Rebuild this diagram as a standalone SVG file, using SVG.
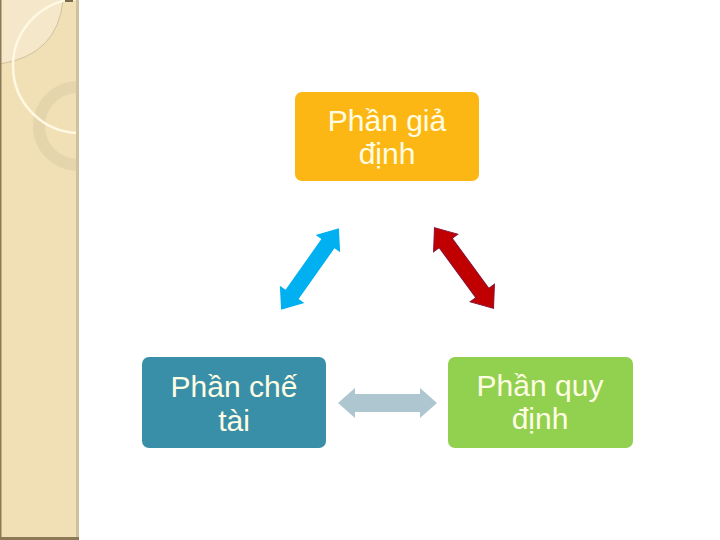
<svg xmlns="http://www.w3.org/2000/svg" width="720" height="540" viewBox="0 0 720 540">
<style>
.lbl{font-family:"Liberation Sans",Arial,sans-serif;font-size:30px;fill:#FFFDE4;text-anchor:middle}
</style>
<defs>
<path id="dbl" d="M -50 0 L -31 -15 L -31 -8 L 31 -8 L 31 -15 L 50 0 L 31 15 L 31 8 L -31 8 L -31 15 Z"/>
<clipPath id="strip"><rect x="0" y="0" width="77" height="540"/></clipPath>
</defs>
<rect width="720" height="540" fill="#FFFFFF"/>
<g id="background">
<rect x="0" y="0" width="79" height="540" fill="#F1E0B5"/>
<g clip-path="url(#strip)">
<path d="M 0 0 L 63 0 Q 58 55 0 64 Z" fill="#F5E8CA"/>
<path d="M 63 0 Q 58 55 0 64" fill="none" stroke="#C4B08C" stroke-width="0.7"/>
<circle cx="78" cy="126" r="39" fill="none" stroke="#E5D5AC" stroke-width="12"/>
<circle cx="80" cy="66" r="67" fill="none" stroke="#FFF8E2" stroke-width="2.5"/>
</g>
<rect x="76" y="0" width="3" height="540" fill="#D0C19E"/>
<rect x="0" y="0" width="1.5" height="540" fill="#8C7A56"/>
<rect x="0" y="537" width="79" height="3" fill="#8C7A56"/>
<rect x="65" y="0" width="8" height="2" fill="#7A6A4C"/>
</g>
<g id="connectors">
<use href="#dbl" transform="translate(310 269) rotate(-54.7)" fill="#00B0F0"/>
<use href="#dbl" transform="translate(464 268) rotate(53.8)" fill="#C00000" stroke="#8A1033" stroke-width="1"/>
<path d="M 338 403 L 355 388 L 355 394 L 420 394 L 420 388 L 437 403 L 420 418 L 420 412 L 355 412 L 355 418 Z" fill="#AEC6D0"/>
</g>
<g id="node-gia-dinh">
<rect x="295" y="92" width="184" height="89" rx="7" fill="#FDB714"/>
<text class="lbl" x="387" y="131">Phần giả</text>
<text class="lbl" x="387" y="164">định</text>
</g>
<g id="node-che-tai">
<rect x="142" y="357" width="184" height="91" rx="7" fill="#3A8FA8"/>
<text class="lbl" x="234" y="397">Phần chế</text>
<text class="lbl" x="234" y="431">tài</text>
</g>
<g id="node-quy-dinh">
<rect x="448" y="357" width="185" height="91" rx="7" fill="#92D050"/>
<text class="lbl" x="540" y="396">Phần quy</text>
<text class="lbl" x="540" y="429">định</text>
</g>
</svg>
